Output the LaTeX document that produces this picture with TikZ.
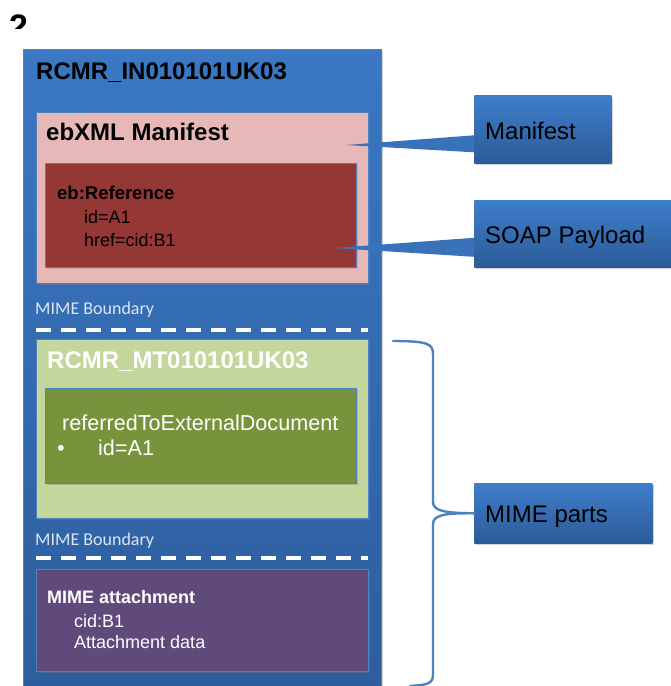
\documentclass[tikz,border=0pt]{standalone}
\usepackage{fontspec}
\setmainfont{Liberation Sans}
\newfontfamily\bndfont{Carlito}
\usetikzlibrary{shadows}

\definecolor{outerblue}{HTML}{3A78C4}
\definecolor{outerdark}{HTML}{2D5D9C}
\definecolor{calltop}{HTML}{3E7ECA}
\definecolor{callbot}{HTML}{2C5B98}
\definecolor{linkblue}{HTML}{3A72BA}
\definecolor{bracecol}{HTML}{4F81BD}
\definecolor{pinkbox}{HTML}{E6B9B8}
\definecolor{redbox}{HTML}{953735}
\definecolor{lightgreen}{HTML}{C3D69B}
\definecolor{olivebox}{HTML}{77933C}
\definecolor{purplebox}{HTML}{604A7B}
\definecolor{bndtext}{HTML}{DCE6F2}

\begin{document}
\begin{tikzpicture}[x=1pt,y=-1pt,
  panel/.style={anchor=north west, inner sep=0pt, draw=bracecol, line width=0.6pt,
    drop shadow={shadow xshift=1.5pt, shadow yshift=-1.5pt, opacity=0.35}},
  callout/.style={panel, top color=calltop, bottom color=callbot, draw=none},
  head/.style={anchor=base west, inner sep=0pt, font=\bfseries\fontsize{24}{28}\selectfont},
  big/.style={anchor=base west, inner sep=0pt, font=\fontsize{24}{28}\selectfont},
  txt/.style={anchor=base west, inner sep=0pt, font=\fontsize{18}{22}\selectfont},
  bnd/.style={anchor=base west, inner sep=0pt, text=bndtext, font=\bndfont\fontsize{18}{21}\selectfont},
  wedge/.style={fill=linkblue},
  brace/.style={draw=bracecol, line width=2.4pt, line cap=round, line join=round}]
\fill[white] (0,0) rectangle (671,686);
\useasboundingbox (0,0) rectangle (671,686);

% figure number, cut off
\begin{scope}
\clip (0,0) rectangle (60,28);
\node[anchor=base west, inner sep=0pt, font=\bfseries\fontsize{34}{36}\selectfont] (fignum) at (9,38) {2};
\end{scope}

% message wrapper
\node[panel, top color=outerblue, bottom color=outerdark, minimum width=358pt, minimum height=645pt] (outer) at (23,49) {};
\node[head] (title) at (36,79) {RCMR\_IN010101UK03};

% ebXML manifest
\node[panel, fill=pinkbox, minimum width=332pt, minimum height=171pt] (manifest) at (36,112) {};
\node[head] (mantitle) at (46,140) {ebXML Manifest};
\node[panel, fill=redbox, minimum width=311pt, minimum height=104pt] (ref) at (45,163) {};
\node[txt, font=\bfseries\fontsize{18.5}{22}\selectfont] (reftitle) at (57,199) {eb:Reference};
\node[txt] (refid) at (84,223) {id=A1};
\node[txt] (refhref) at (84,246) {href=cid:B1};

% MIME boundaries
\foreach \y/\n in {314/1,545/2}{
\node[bnd] (bnd\n) at (35,\y) {MIME Boundary};
}
\foreach \y in {330,558}
\draw[white, line width=3.5pt, dash pattern=on 15pt off 10pt] (36,\y) -- (368,\y);

% HL7 payload
\node[panel, fill=lightgreen, minimum width=332pt, minimum height=179pt] (payload) at (36,339) {};
\node[head, text=white] (paytitle) at (47,368) {RCMR\_MT010101UK03};
\node[panel, fill=olivebox, minimum width=311pt, minimum height=95pt] (extdoc) at (45,388) {};
\node[txt, text=white, font=\fontsize{21.6}{24}\selectfont] (exttitle) at (62,430) {referredToExternalDocument};
\node[txt, text=white, font=\fontsize{21.6}{24}\selectfont] (extbul) at (57,455) {\textbullet};
\node[txt, text=white, font=\fontsize{21.6}{24}\selectfont] (extid) at (98,455) {id=A1};

% attachment
\node[panel, fill=purplebox, minimum width=332pt, minimum height=102pt] (attach) at (36,569) {};
\node[txt, text=white, font=\bfseries\fontsize{18}{22}\selectfont] (atttitle) at (47,603) {MIME attachment};
\node[txt, text=white] (attcid) at (74,627) {cid:B1};
\node[txt, text=white] (attdata) at (74,648) {Attachment data};

% callouts
\node[callout, minimum width=137pt, minimum height=68pt] (mancall) at (474,95) {};
\node[big] (mancalltxt) at (485,139) {Manifest};
\node[callout, minimum width=200pt, minimum height=67pt] (soapcall) at (474,200) {};
\node[big] (soapcalltxt) at (485,243) {SOAP Payload};
\node[callout, minimum width=178pt, minimum height=60pt] (parts) at (474,483) {};
\node[big] (partstxt) at (485,522) {MIME parts};

\coordinate (mantip) at (346,145);
\coordinate (soaptip) at (334,248);
\fill[wedge] (mantip) -- ([yshift=-6pt]mancall.west) -- ([yshift=-23pt]mancall.west) -- cycle;
\fill[wedge] (soaptip) -- ([yshift=-4pt]soapcall.west) -- ([yshift=-23pt]soapcall.west) -- cycle;

% brace over the MIME parts
\coordinate (btop) at (393,341);
\coordinate (bbot) at (410,686);
\draw[brace] (btop) .. controls (428,341) and (433,344) .. (433,354) -- (433,502)
  .. controls (433,511) and (445,513) .. (parts.west)
  .. controls (445,513) and (433,515) .. (433,524) -- (433,675)
  .. controls (433,684) and (426,685) .. (bbot);
\end{tikzpicture}
\end{document}
